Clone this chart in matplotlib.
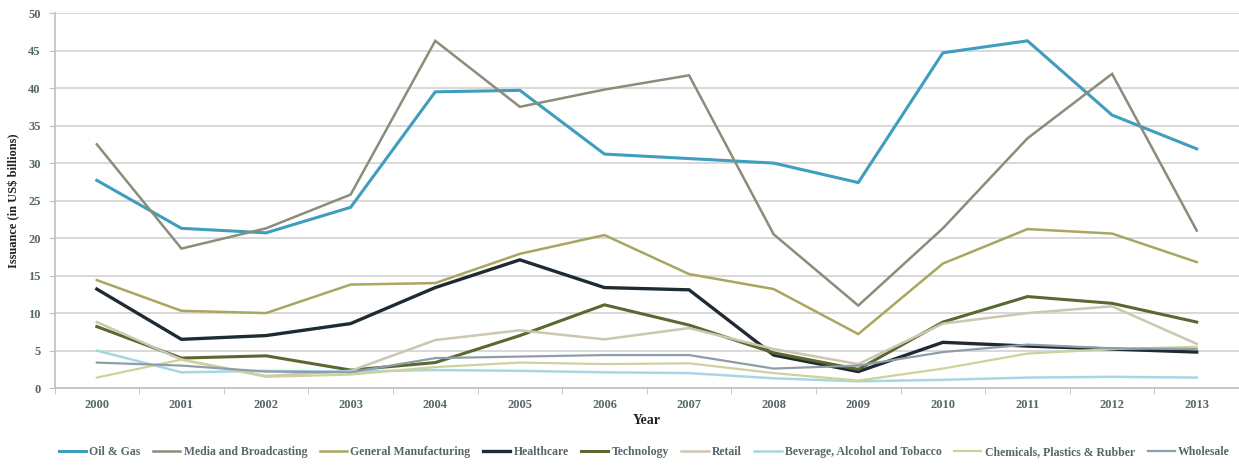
import numpy as np
import matplotlib
matplotlib.use("Agg")
import matplotlib.pyplot as plt
from matplotlib.ticker import FixedLocator

years = list(range(2000, 2014))

oil_gas = [27.7, 21.3, 20.7, 24.1, 39.5, 39.7, 31.2, 30.6, 30.0, 27.4, 44.7, 46.3, 36.4, 31.9]
media = [32.5, 18.6, 21.3, 25.8, 46.3, 37.5, 39.8, 41.7, 20.5, 11.0, 21.3, 33.3, 41.9, 21.0]
general_mfg = [14.4, 10.3, 10.0, 13.8, 14.0, 17.9, 20.4, 15.2, 13.2, 7.2, 16.6, 21.2, 20.6, 16.8]
healthcare = [13.2, 6.5, 7.0, 8.6, 13.4, 17.1, 13.4, 13.1, 4.4, 2.2, 6.1, 5.6, 5.2, 4.8]
technology = [8.2, 4.0, 4.3, 2.4, 3.4, 7.0, 11.1, 8.4, 4.7, 2.5, 8.8, 12.2, 11.3, 8.8]
retail = [8.8, 3.8, 1.6, 2.3, 6.4, 7.7, 6.5, 8.0, 5.2, 3.2, 8.6, 10.0, 10.9, 5.9]
beverage = [5.0, 2.1, 2.3, 2.2, 2.4, 2.3, 2.1, 2.0, 1.3, 0.9, 1.1, 1.4, 1.5, 1.4]
chemicals = [1.4, 3.8, 1.5, 1.8, 2.8, 3.4, 3.2, 3.3, 2.0, 1.0, 2.6, 4.6, 5.2, 5.5]
wholesale = [3.4, 3.0, 2.2, 2.1, 4.0, 4.2, 4.4, 4.4, 2.6, 3.0, 4.8, 5.8, 5.3, 5.2]

series = [
    ("Oil & Gas", oil_gas, "#3f9dbd", 2.2),
    ("Media and Broadcasting", media, "#8a8d7a", 1.8),
    ("General Manufacturing", general_mfg, "#a9a660", 1.8),
    ("Healthcare", healthcare, "#1e2b33", 2.4),
    ("Technology", technology, "#5c6630", 2.2),
    ("Retail", retail, "#cdc6b0", 1.8),
    ("Beverage, Alcohol and Tobacco", beverage, "#a6d6e4", 1.8),
    ("Chemicals, Plastics & Rubber", chemicals, "#cdd29c", 1.6),
    ("Wholesale", wholesale, "#8f9ea6", 1.6),
]

serif = ["Liberation Serif", "DejaVu Serif"]
label_color = "#56676a"

fig = plt.figure(figsize=(12.39, 4.67), dpi=100)
ax = fig.add_axes([0.044, 0.169, 0.956, 0.803])

x = np.arange(len(years))
for name, vals, color, lw in series:
    ax.plot(x, vals, color=color, lw=lw, label=name, solid_joinstyle="miter")

ax.set_xlim(-0.5, len(years) - 0.5)
ax.set_ylim(0, 50)
ax.set_yticks(range(0, 51, 5))
ax.set_xticks(x)
ax.set_xticklabels([str(y) for y in years])
ax.xaxis.set_minor_locator(FixedLocator(np.arange(-0.5, len(years), 1.0)))

ax.grid(axis="y", color="#d8d8d8", lw=1.4)
ax.set_axisbelow(True)
for side in ["top", "right"]:
    ax.spines[side].set_visible(False)
ax.spines["left"].set_color("#bfbfbf")
ax.spines["bottom"].set_color("#bfbfbf")
ax.spines["left"].set_linewidth(1.2)
ax.spines["bottom"].set_linewidth(1.2)

ax.tick_params(axis="x", which="major", length=0, pad=8)
ax.tick_params(axis="x", which="minor", length=4, color="#bfbfbf", direction="out")
ax.tick_params(axis="y", length=4, color="#bfbfbf", pad=6)
for lab in ax.get_xticklabels() + ax.get_yticklabels():
    lab.set_fontfamily(serif)
    lab.set_fontweight("bold")
    lab.set_fontsize(9)
    lab.set_color(label_color)

ax.set_xlabel("Year", family=serif, fontweight="bold", fontsize=10, color="#222222", labelpad=2)
ax.set_ylabel("Issuance (in US$ billions)", family=serif, fontweight="bold", fontsize=9,
              color="#222222", labelpad=6)

leg = fig.legend(loc="center", bbox_to_anchor=(0.52, 0.032), ncol=9, frameon=False,
                 prop={"family": serif, "weight": "bold", "size": 8.5},
                 handlelength=2.3, handletextpad=0.3, columnspacing=1.05)
for t in leg.get_texts():
    t.set_color(label_color)

fig.savefig("out.png", dpi=100)
